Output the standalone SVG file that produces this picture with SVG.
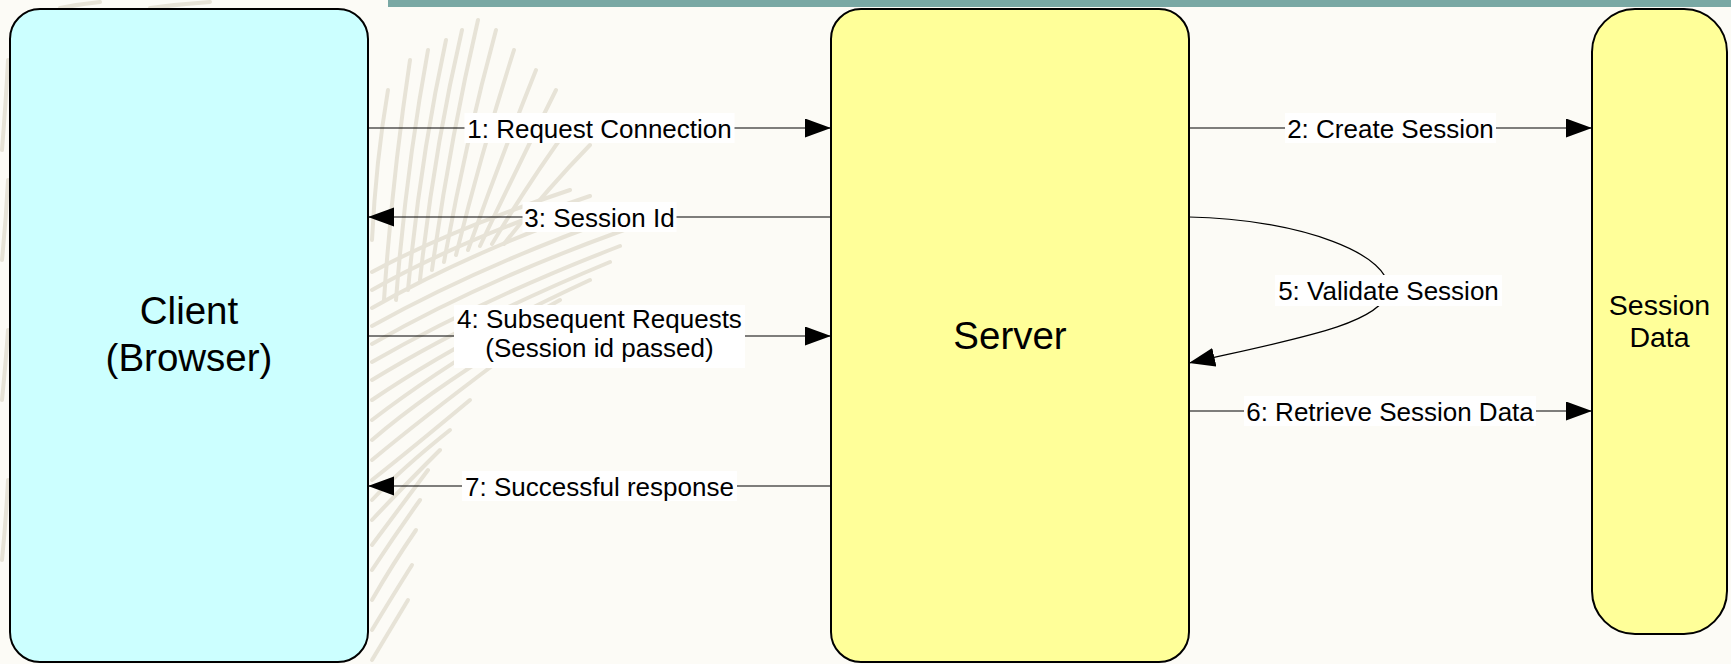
<svg xmlns="http://www.w3.org/2000/svg" width="1731" height="664" viewBox="0 0 1731 664">
<defs>
<style>
.node{stroke:#000;stroke-width:2}
.client{fill:#ccffff}
.yel{fill:#ffff99}
.big{font-family:"Liberation Sans",Arial,sans-serif;font-size:38.5px;fill:#000;text-anchor:middle}
.mid{font-family:"Liberation Sans",Arial,sans-serif;font-size:28.5px;fill:#000;text-anchor:middle}
.lbl{font-family:"Liberation Sans",Arial,sans-serif;font-size:26px;fill:#000;text-anchor:middle}
.conn{fill:none;stroke:#000;stroke-width:1.2}
.lblbg{fill:#ffffff}
.leaf{fill:none;stroke:#e7e3d7;stroke-width:4;stroke-linecap:round}
</style>
<marker id="arr" markerUnits="userSpaceOnUse" markerWidth="27" markerHeight="20" refX="26" refY="9.5" orient="auto">
<path d="M0,0 L26,9.5 L0,19 z" fill="#000"/>
</marker>
</defs>
<rect x="0" y="0" width="1731" height="664" fill="#fcfbf6"/>
<g id="background-leaf">
<path class="leaf" d="M384,300 Q392,180 410,60"/>
<path class="leaf" d="M396,300 Q406,170 428,50"/>
<path class="leaf" d="M408,290 Q420,160 446,40"/>
<path class="leaf" d="M420,280 Q434,150 462,30"/>
<path class="leaf" d="M432,270 Q450,140 478,20"/>
<path class="leaf" d="M444,262 Q466,140 496,30"/>
<path class="leaf" d="M456,255 Q482,150 514,50"/>
<path class="leaf" d="M468,250 Q500,160 536,70"/>
<path class="leaf" d="M480,246 Q516,170 556,90"/>
<path class="leaf" d="M492,244 Q530,180 574,120"/>
<path class="leaf" d="M504,244 Q546,190 590,145"/>
<path class="leaf" d="M372,240 Q376,160 388,90"/>
<path class="leaf" d="M372,420 Q450,360 560,300"/>
<path class="leaf" d="M372,400 Q460,340 590,280"/>
<path class="leaf" d="M372,380 Q470,320 610,262"/>
<path class="leaf" d="M372,362 Q480,300 620,246"/>
<path class="leaf" d="M372,344 Q480,282 624,230"/>
<path class="leaf" d="M372,326 Q480,266 620,216"/>
<path class="leaf" d="M372,308 Q470,252 606,204"/>
<path class="leaf" d="M372,290 Q460,240 590,196"/>
<path class="leaf" d="M372,272 Q450,230 570,190"/>
<path class="leaf" d="M372,440 Q430,390 530,330"/>
<path class="leaf" d="M372,460 Q420,420 500,360"/>
<path class="leaf" d="M372,480 Q410,450 470,400"/>
<path class="leaf" d="M372,500 Q400,470 450,430"/>
<path class="leaf" d="M372,520 Q400,490 440,450"/>
<path class="leaf" d="M372,545 Q398,510 428,470"/>
<path class="leaf" d="M372,570 Q395,535 420,500"/>
<path class="leaf" d="M372,600 Q392,565 416,530"/>
<path class="leaf" d="M372,630 Q390,600 412,565"/>
<path class="leaf" d="M372,660 Q390,630 408,600"/>
<path class="leaf" d="M2,150 Q6,100 8,60"/>
<path class="leaf" d="M2,260 Q6,220 8,180"/>
<path class="leaf" d="M2,400 Q6,360 8,330"/>
<path class="leaf" d="M2,560 Q6,520 8,480"/>
<path class="leaf" d="M60,8 Q80,4 100,2"/>
<path class="leaf" d="M150,8 Q180,4 210,2"/>
</g>
<rect x="388" y="0" width="1343" height="7" fill="#79a8a4"/>
<g id="client">
<rect class="node client" x="10" y="9" width="358" height="653" rx="30" ry="30"/>
<text class="big" x="189" y="324">Client</text>
<text class="big" x="189" y="371">(Browser)</text>
</g>
<g id="server">
<rect class="node yel" x="831" y="9" width="358" height="653" rx="30" ry="30"/>
<text class="big" x="1010" y="349">Server</text>
</g>
<g id="session-data">
<rect class="node yel" x="1592" y="9" width="135" height="625" rx="43" ry="43"/>
<text class="mid" x="1659.5" y="315">Session</text>
<text class="mid" x="1659.5" y="347">Data</text>
</g>
<g id="connectors">
<path class="conn" d="M368,128 H831" marker-end="url(#arr)"/>
<rect class="lblbg" x="464.5" y="113" width="270" height="30"/>
<text class="lbl" x="599.5" y="137.5">1: Request Connection</text>

<path class="conn" d="M1189,128 H1592" marker-end="url(#arr)"/>
<rect class="lblbg" x="1285" y="113" width="211" height="30"/>
<text class="lbl" x="1390.5" y="137.5">2: Create Session</text>

<path class="conn" d="M831,217 H368" marker-end="url(#arr)"/>
<rect class="lblbg" x="522.5" y="202" width="154" height="30"/>
<text class="lbl" x="599.5" y="226.5">3: Session Id</text>

<path class="conn" d="M368,336 H831" marker-end="url(#arr)"/>
<rect class="lblbg" x="454" y="305" width="291" height="63"/>
<text class="lbl" x="599.5" y="328">4: Subsequent Requests</text>
<text class="lbl" x="599.5" y="357">(Session id passed)</text>

<path class="conn" d="M1189,217 C1300,219 1395,255 1388,292 C1380,325 1290,340 1189,363" marker-end="url(#arr)"/>
<rect class="lblbg" x="1275" y="275" width="227" height="31"/>
<text class="lbl" x="1388.5" y="299.5">5: Validate Session</text>

<path class="conn" d="M1189,411 H1592" marker-end="url(#arr)"/>
<rect class="lblbg" x="1244" y="396" width="292" height="30"/>
<text class="lbl" x="1390" y="420.5">6: Retrieve Session Data</text>

<path class="conn" d="M831,486 H368" marker-end="url(#arr)"/>
<rect class="lblbg" x="462" y="471" width="275" height="30"/>
<text class="lbl" x="599.5" y="495.5">7: Successful response</text>
</g>
</svg>
